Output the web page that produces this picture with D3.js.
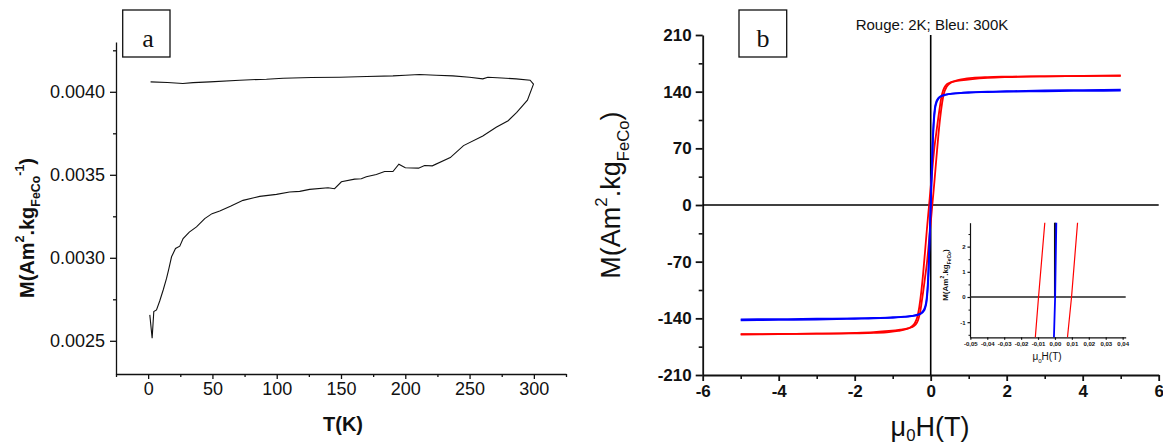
<!DOCTYPE html>
<html>
<head>
<meta charset="utf-8">
<script src="https://cdn.jsdelivr.net/npm/d3@7"></script>
<style>
  body { margin: 0; background: #fff; }
  svg { display: block; font-family: "Liberation Sans", Arial, sans-serif; }
</style>
</head>
<body>
<script>
// ---- panel a : M(T) ----
const zfcT = [1.3, 3.1, 4.4, 6.5, 9, 11.7, 14.3, 16, 18.2, 21.3, 24.6, 27.2, 32, 37.6, 44, 49.7, 55.7, 64, 73.8, 86.8, 99.8, 110, 117.9, 125.6, 139.9, 145, 150.3, 160.6, 165.8, 169.7, 177.5, 183.9, 190.4, 195, 200, 210.3, 215, 221, 235, 245.3, 260.3, 270.7, 280, 286.7, 295, 299.7];
const zfcM = [0.002656, 0.002516, 0.002676, 0.002686, 0.00274, 0.002806, 0.002876, 0.00293, 0.003006, 0.003056, 0.00307, 0.003116, 0.003155, 0.003186, 0.003236, 0.003266, 0.003282, 0.00331, 0.003346, 0.00337, 0.003382, 0.003396, 0.0034, 0.003412, 0.003422, 0.003416, 0.003458, 0.003474, 0.003476, 0.003488, 0.003502, 0.00352, 0.00352, 0.003564, 0.003542, 0.00354, 0.003556, 0.003554, 0.003604, 0.003676, 0.003734, 0.003786, 0.003826, 0.003876, 0.00395, 0.004046];
const fcT = [297.1, 286.2, 275, 264.2, 260.3, 250, 237, 224, 211, 200, 190.4, 170, 149, 127, 105, 92, 71.3, 48, 35, 27, 15, 1.9];
const fcM = [0.00407, 0.004078, 0.004083, 0.004088, 0.004078, 0.004088, 0.004096, 0.0041, 0.004104, 0.0041, 0.004096, 0.004092, 0.004088, 0.004086, 0.004082, 0.004076, 0.00407, 0.00406, 0.004055, 0.00405, 0.004056, 0.00406];
const aTicksX = [0, 50, 100, 150, 200, 250, 300];
const aTicksY = [0.0025, 0.0030, 0.0035, 0.0040];

// ---- panel b : M(H) hysteresis, red 2K, blue 300K ----
const redDescH = [-5, -4, -3, -2, -1.5, -1.1, -0.85, -0.65, -0.5, -0.42, -0.35, -0.3, -0.25, -0.2, -0.15, -0.1, -0.05, 0, 0.05, 0.1, 0.15, 0.2, 0.24, 0.28, 0.33, 0.4, 0.5, 0.6, 0.8, 1.1, 1.5, 2, 3, 4, 5];
const redDescM = [-159.5, -159.3, -159, -158.5, -158, -157, -155.5, -153.5, -150, -146, -138, -126, -108, -85, -58, -30, -4, 22, 48, 72, 90, 108, 121, 133, 142, 148, 151, 152.5, 154, 155.6, 157, 158, 159, 159.5, 160];
const redAscH = [-5, -4, -3, -2, -1.5, -1.1, -0.8, -0.6, -0.5, -0.4, -0.33, -0.28, -0.24, -0.2, -0.15, -0.1, -0.05, 0, 0.05, 0.1, 0.15, 0.2, 0.25, 0.3, 0.35, 0.42, 0.5, 0.65, 0.85, 1.1, 1.5, 2, 3, 4, 5];
const redAscM = [-160, -159.5, -159, -158, -157, -155.6, -154, -152.5, -151, -148, -142, -133, -121, -108, -90, -72, -48, -22, 4, 30, 58, 85, 108, 126, 138, 146, 150, 153.5, 155.5, 157, 158, 158.5, 159, 159.3, 159.5];
const blueH = [-5, -4, -3, -2, -1.5, -1, -0.7, -0.5, -0.35, -0.25, -0.2, -0.15, -0.11, -0.08, -0.05, -0.02, 0, 0.02, 0.05, 0.08, 0.11, 0.15, 0.2, 0.25, 0.35, 0.5, 0.7, 1, 1.5, 2, 3, 4, 5];
const blueDescM = [-141.2, -141, -140.5, -140, -139.5, -139, -138, -137, -135.5, -133.5, -131, -126, -117, -100, -70, -27, 1, 30, 75, 105, 120, 128, 132, 134, 136, 137.3, 138.3, 139, 140, 140.5, 141.5, 142, 142.4];
const blueAscM = [-142.4, -142, -141.5, -140.5, -140, -139, -138.3, -137.3, -136, -134, -132, -128, -120, -105, -75, -30, -1, 27, 70, 100, 117, 126, 131, 133.5, 135.5, 137, 138, 139, 139.5, 140, 140.5, 141, 141.2];
const bTicksX = [-6, -4, -2, 0, 2, 4, 6];
const bTicksY = [-210, -140, -70, 0, 70, 140, 210];

// inset (zoom around H = 0)
const insetRedDescH = [-0.0116, -0.0097, -0.006];
const insetRedAscH = [0.0074, 0.0098, 0.01335];
const insetBlueH = [-0.0006, 0.0001, 0.0008];
const insetM = [-1.6, 0, 2.95];
const iTicksX = [-0.05, -0.04, -0.03, -0.02, -0.01, 0, 0.01, 0.02, 0.03, 0.04];
const iTicksY = [-1, 0, 1, 2];

const W = 1163, H = 446;
const svg = d3.select("body").append("svg").attr("width", W).attr("height", H);

const zip = (xs, ys) => xs.map((x, i) => [x, ys[i]]);

// writes a label with sup/sub parts into a <text>
function richText(txt, parts, size, subShift = 0.32) {
  let shift = 0;
  parts.forEach(([t, k]) => {
    const target = k === "sup" ? -0.5 * size : k === "sub" ? subShift * size : 0;
    txt.append("tspan")
      .attr("dy", target - shift)
      .attr("font-size", k ? size * 0.62 : size)
      .text(t);
    shift = target;
  });
}

function styleAxis(g, {font = 18, weight = "normal", stroke = 1.3} = {}) {
  g.select(".domain").attr("stroke", "#111").attr("stroke-width", stroke);
  g.selectAll(".tick line").attr("stroke", "#111").attr("stroke-width", stroke);
  g.selectAll(".tick text").attr("fill", "#111").attr("font-size", font)
    .attr("font-weight", weight).attr("font-family", "Liberation Sans, Arial, sans-serif");
}

function minorAxis(g, axis, values, stroke) {
  g.call(axis.tickValues(values).tickFormat("").tickSizeOuter(0));
  g.select(".domain").remove();
  g.selectAll(".tick line").attr("stroke", "#111").attr("stroke-width", stroke);
}

// ================= panel a =================
const xA = d3.scaleLinear().domain([-25, 325]).range([116, 566]);
const yA = d3.scaleLinear().domain([0.0023, 0.0043]).range([374, 42]);

const gax = svg.append("g").attr("transform", `translate(0,${yA.range()[0]})`)
  .call(d3.axisBottom(xA).tickValues(aTicksX).tickSize(5).tickSizeOuter(0).tickPadding(3));
styleAxis(gax);
minorAxis(svg.append("g").attr("transform", `translate(0,${yA.range()[0]})`),
  d3.axisBottom(xA).tickSize(3), [-25, 25, 75, 125, 175, 225, 275, 325], 1.3);

const gay = svg.append("g").attr("transform", `translate(${xA.range()[0]},0)`)
  .call(d3.axisLeft(yA).tickValues(aTicksY).tickSize(6).tickSizeOuter(0).tickPadding(5)
    .tickFormat(d3.format(".4f")));
styleAxis(gay);
minorAxis(svg.append("g").attr("transform", `translate(${xA.range()[0]},0)`),
  d3.axisLeft(yA).tickSize(3), [0.00275, 0.00325, 0.00375, 0.00425], 1.3);

const lineA = d3.line().x(d => xA(d[0])).y(d => yA(d[1]));
svg.append("path")
  .datum(zip(zfcT, zfcM).concat(zip(fcT, fcM)))
  .attr("fill", "none").attr("stroke", "#111").attr("stroke-width", 1.1)
  .attr("d", lineA);

// y label a
const yla = svg.append("text")
  .attr("transform", "translate(34,228) rotate(-90)")
  .attr("text-anchor", "middle").attr("font-weight", "bold").attr("fill", "#111");
richText(yla, [["M(Am", ""], ["2", "sup"], [".kg", ""], ["FeCo", "sub"], ["-1", "sup"], [")", ""]], 20);

svg.append("text").attr("x", 343).attr("y", 431)
  .attr("text-anchor", "middle").attr("font-weight", "bold").attr("font-size", 20)
  .attr("fill", "#111").text("T(K)");

svg.append("rect").attr("x", 122.7).attr("y", 10).attr("width", 47.3).attr("height", 47)
  .attr("fill", "none").attr("stroke", "#111").attr("stroke-width", 1.3);
svg.append("text").attr("x", 148).attr("y", 47).attr("text-anchor", "middle")
  .attr("font-family", "Liberation Serif, Times New Roman, serif").attr("font-size", 26)
  .attr("fill", "#111").text("a");

// ================= panel b =================
const xB = d3.scaleLinear().domain([-6, 6]).range([702.7, 1158.7]);
const yB = d3.scaleLinear().domain([-210, 210]).range([375, 35]);

const gbx = svg.append("g").attr("transform", `translate(0,${yB.range()[0]})`)
  .call(d3.axisBottom(xB).tickValues(bTicksX).tickSize(6).tickSizeOuter(0).tickPadding(4)
    .tickFormat(d => String(d)));
styleAxis(gbx, {font: 17, weight: "bold", stroke: 1.8});
minorAxis(svg.append("g").attr("transform", `translate(0,${yB.range()[0]})`),
  d3.axisBottom(xB).tickSize(4), [-5, -3, -1, 1, 3, 5], 1.6);

const gby = svg.append("g").attr("transform", `translate(${xB.range()[0]},0)`)
  .call(d3.axisLeft(yB).tickValues(bTicksY).tickSize(7).tickSizeOuter(0).tickPadding(4)
    .tickFormat(d => String(d)));
styleAxis(gby, {font: 17, weight: "bold", stroke: 1.8});
minorAxis(svg.append("g").attr("transform", `translate(${xB.range()[0]},0)`),
  d3.axisLeft(yB).tickSize(4), [-175, -105, -35, 35, 105, 175], 1.6);

// zero lines
svg.append("line").attr("x1", xB(-6)).attr("x2", xB(6)).attr("y1", yB(0)).attr("y2", yB(0))
  .attr("stroke", "#000").attr("stroke-width", 1.6);
svg.append("line").attr("x1", xB(0)).attr("x2", xB(0)).attr("y1", yB(210)).attr("y2", yB(-210))
  .attr("stroke", "#000").attr("stroke-width", 1.6);

const lineB = d3.line().x(d => xB(d[0])).y(d => yB(d[1])).curve(d3.curveMonotoneX);
const loops = [
  [redDescH, redDescM, "#ff0000"],
  [redAscH, redAscM, "#ff0000"],
  [blueH, blueDescM, "#0000ff"],
  [blueH, blueAscM, "#0000ff"]
];
svg.selectAll("path.loop").data(loops).enter().append("path")
  .attr("class", "loop")
  .attr("fill", "none")
  .attr("stroke", d => d[2]).attr("stroke-width", 1.8)
  .attr("d", d => lineB(zip(d[0], d[1])));

svg.append("text").attr("x", 932).attr("y", 30).attr("text-anchor", "middle")
  .attr("font-size", 15).attr("fill", "#111").text("Rouge: 2K; Bleu: 300K");

const ylb = svg.append("text")
  .attr("transform", "translate(620,195) rotate(-90)")
  .attr("text-anchor", "middle").attr("fill", "#111");
richText(ylb, [["M(Am", ""], ["2", "sup"], [".kg", ""], ["FeCo", "sub"], [")", ""]], 27);

const xlb = svg.append("text").attr("x", 930).attr("y", 436)
  .attr("text-anchor", "middle").attr("fill", "#111");
richText(xlb, [["\u03bc", ""], ["0", "sub"], ["H(T)", ""]], 27, 0.2);

svg.append("rect").attr("x", 739).attr("y", 10).attr("width", 47.7).attr("height", 47)
  .attr("fill", "none").attr("stroke", "#111").attr("stroke-width", 1.3);
svg.append("text").attr("x", 763).attr("y", 47).attr("text-anchor", "middle")
  .attr("font-family", "Liberation Serif, Times New Roman, serif").attr("font-size", 26)
  .attr("fill", "#111").text("b");

// ================= inset =================
const xI = d3.scaleLinear().domain([-0.0502, 0.0418]).range([970, 1125.7]);
const yI = d3.scaleLinear().domain([-1.6, 2.95]).range([337.3, 222.7]);
const commaFmt = d => (d < -1e-9 ? "-" : "") + Math.abs(d).toFixed(2).replace(".", ",");

const gix = svg.append("g").attr("transform", `translate(0,${yI.range()[0]})`)
  .call(d3.axisBottom(xI).tickValues(iTicksX).tickSize(2.5).tickSizeOuter(0).tickPadding(2)
    .tickFormat(commaFmt));
styleAxis(gix, {font: 6, weight: "bold", stroke: 1.2});

const giy = svg.append("g").attr("transform", `translate(${xI.range()[0]},0)`)
  .call(d3.axisLeft(yI).tickValues(iTicksY).tickSize(2.5).tickSizeOuter(0).tickPadding(2)
    .tickFormat(d => String(d)));
styleAxis(giy, {font: 6, weight: "bold", stroke: 1.2});
minorAxis(svg.append("g").attr("transform", `translate(${xI.range()[0]},0)`),
  d3.axisLeft(yI).tickSize(1.5), [-1.5, -0.5, 0.5, 1.5, 2.5], 1);

svg.append("line").attr("x1", xI.range()[0]).attr("x2", xI.range()[1]).attr("y1", yI(0)).attr("y2", yI(0))
  .attr("stroke", "#222").attr("stroke-width", 1.6);
svg.append("line").attr("x1", xI(0)).attr("x2", xI(0)).attr("y1", yI(2.95)).attr("y2", yI(0))
  .attr("stroke", "#111").attr("stroke-width", 2);

const lineI = d3.line().x(d => xI(d[0])).y(d => yI(d[1]));
const insetLines = [
  [insetRedDescH, "#ff0000", 1.2],
  [insetRedAscH, "#ff0000", 1.2],
  [insetBlueH, "#0000ff", 1.8]
];
svg.selectAll("path.inset").data(insetLines).enter().append("path")
  .attr("class", "inset").attr("fill", "none")
  .attr("stroke", d => d[1]).attr("stroke-width", d => d[2])
  .attr("d", d => lineI(zip(d[0], insetM)));

const yli = svg.append("text")
  .attr("transform", "translate(948,275) rotate(-90)")
  .attr("text-anchor", "middle").attr("font-weight", "bold").attr("fill", "#111");
richText(yli, [["M(Am", ""], ["2", "sup"], [".kg", ""], ["FeCo", "sub"], [")", ""]], 8);

const xli = svg.append("text").attr("x", 1047).attr("y", 360)
  .attr("text-anchor", "middle").attr("fill", "#111");
richText(xli, [["\u03bc", ""], ["0", "sub"], ["H(T)", ""]], 10);
</script>
</body>
</html>
